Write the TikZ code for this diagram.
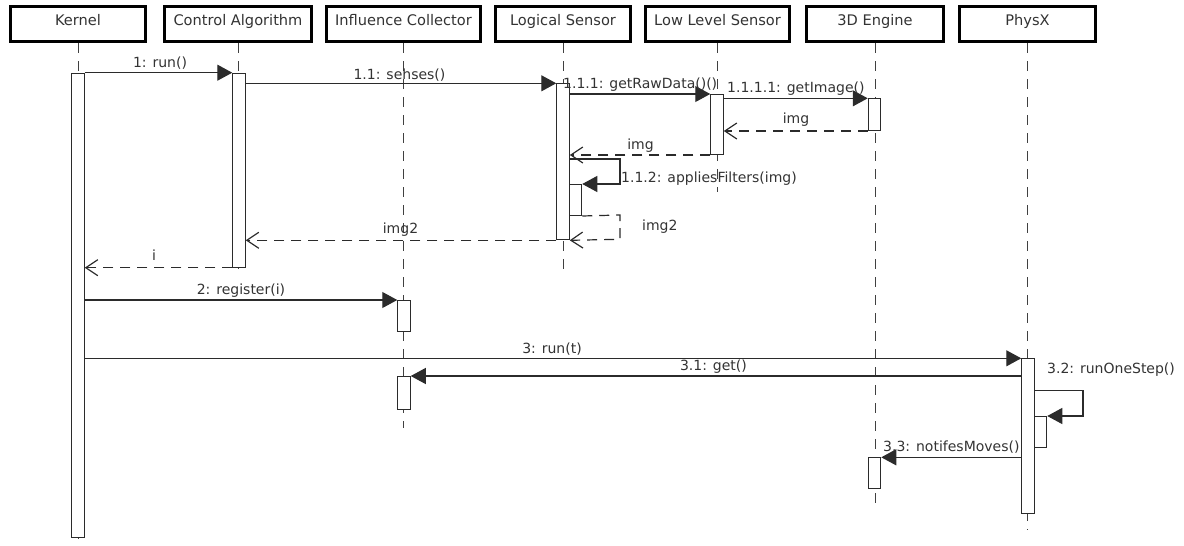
\documentclass[tikz,border=0pt]{standalone}
\usepackage{fontspec}
\setmainfont{DejaVu Sans}
\usetikzlibrary{arrows.meta}
\definecolor{ink}{HTML}{2B2B2B}
\definecolor{dash}{HTML}{404040}
\definecolor{txt}{HTML}{333333}

\begin{document}
\begin{tikzpicture}[x=1pt,y=-1pt,
  font=\fontsize{14}{16}\selectfont,
  actor/.style={draw=black, line width=2.8pt, fill=white, minimum height=35.2pt,
    inner sep=0pt, text=txt, text height=10.7pt, text depth=7pt,
    font=\fontsize{14.6}{16}\selectfont},
  lifeline/.style={draw=dash, line width=0.9pt, dash pattern=on 10pt off 8pt},
  act/.style={draw=ink, fill=white, line width=1pt, minimum width=12.5pt,
    inner sep=0pt, anchor=north},
  call/.style={draw=ink, line width=1.2pt, -{Triangle[length=15pt,width=16pt]}},
  ret/.style={draw=ink, line width=1.2pt, dash pattern=on 10pt off 7pt,
    -{Straight Barb[length=12pt,width=16pt,line width=1.2pt]}},
  lbl/.style={text=txt, inner sep=0pt},
]
\useasboundingbox (0,0) rectangle (1184,546);

% participants
\node[actor, minimum width=135pt] (kernel) at (78,24)     {Kernel};
\node[actor, minimum width=147pt] (ctrl)   at (238,24)    {Control Algorithm};
\node[actor, minimum width=154pt] (infl)   at (403.5,24)  {Influence Collector};
\node[actor, minimum width=135pt] (logic)  at (563,24)    {Logical Sensor};
\node[actor, minimum width=144pt] (lowlvl) at (717.5,24)  {Low Level Sensor};
\node[actor, minimum width=137pt] (engine) at (875,24)    {3D Engine};
\node[actor, minimum width=136pt] (physx)  at (1027.5,24) {PhysX};

% lifelines
\coordinate (kernelend) at (78,546);
\coordinate (ctrlend)   at (238,272);
\coordinate (inflend)   at (403.5,428);
\coordinate (logicend)  at (563,270);
\coordinate (lowlvlend) at (717.5,192);
\coordinate (engineend) at (875,505);
\coordinate (physxend)  at (1027.5,530);
\draw[lifeline] (kernel.south) -- (kernelend);
\draw[lifeline] (ctrl.south)   -- (ctrlend);
\draw[lifeline] (infl.south)   -- (inflend);
\draw[lifeline] (logic.south)  -- (logicend);
\draw[lifeline] (lowlvl.south) -- (lowlvlend);
\draw[lifeline] (engine.south) -- (engineend);
\draw[lifeline] (physx.south)  -- (physxend);

% activations
\node[act, minimum height=464.6pt] (kact)   at (78,72.7)    {};
\node[act, minimum height=194pt]   (cact)   at (239,72.7)   {};
\node[act, minimum height=156pt]   (lsact)  at (563,83.3)   {};
\node[act, minimum height=31pt]    (lsnest) at (575.5,184)  {};
\node[act, minimum height=60pt]    (llsact) at (717,94)     {};
\node[act, minimum height=31.7pt]  (deact)  at (874.5,98.3) {};
\node[act, minimum height=31pt]    (icact)  at (404,300)    {};
\node[act, minimum height=33pt]    (icact2) at (404,376)    {};
\node[act, minimum height=155pt]   (pxact)  at (1028,358.3) {};
\node[act, minimum height=30.7pt]  (pxnest) at (1040.5,416) {};
\node[act, minimum height=30.4pt]  (deact2) at (874.5,457.3){};

% self-call corners
\coordinate (lsloopA) at (620,159);
\coordinate (lsloopB) at (620,184);
\coordinate (lsretA)  at (620,215);
\coordinate (lsretB)  at (620,239.3);
\coordinate (pxloopA) at (1083,390.7);
\coordinate (pxloopB) at (1083,416);

% messages
\draw[call] (kact.north east) -- (cact.north west);
\draw[call] (cact.east |- lsact.north) -- (lsact.north west);
\draw[call] (lsact.east |- llsact.north) -- (llsact.north west);
\draw[call] (llsact.east |- deact.north) -- (deact.north west);
\draw[ret]  (deact.south west) -- (llsact.east |- deact.south);
\draw[ret]  (llsact.south west) -- (lsact.east |- llsact.south);
\draw[call] (lsact.east |- lsloopA) -- (lsloopA) -- (lsloopB) -- (lsnest.north east);
\draw[ret]  (lsnest.south east) -- (lsretA) -- (lsretB) -- (lsact.south east);
\draw[ret]  (lsact.south west) -- (cact.east |- lsact.south);
\draw[ret]  (cact.south west) -- (kact.east |- cact.south);
\draw[call] (kact.east |- icact.north) -- (icact.north west);
\draw[call] (kact.east |- pxact.north) -- (pxact.north west);
\draw[call] (pxact.west |- icact2.north) -- (icact2.north east);
\draw[call] (pxact.east |- pxloopA) -- (pxloopA) -- (pxloopB) -- (pxnest.north east);
\draw[call] (pxact.west |- deact2.north) -- (deact2.north east);

% message labels
\node[lbl] (m1)   at (160,63)    {1: run()};
\node[lbl] (m11)  at (399.5,75)  {1.1: sehses()};
\node[lbl, anchor=west] (m111)  at (563,85)  {1.1.1: getRawData()()};
\node[lbl, anchor=west] (m1111) at (727,89)  {1.1.1.1: getImage()};
\node[lbl] (r1)   at (796,120)   {img};
\node[lbl] (r2)   at (640.5,146) {img};
\node[lbl, anchor=west] (m112)  at (621,179) {1.1.2: appliesFilters(img)};
\node[lbl, anchor=west] (r3)    at (642,227) {img2};
\node[lbl] (r4)   at (400.5,230) {img2};
\node[lbl] (r5)   at (154,255)   {i};
\node[lbl] (m2)   at (241,291)   {2: register(i)};
\node[lbl] (m3)   at (552,349)   {3: run(t)};
\node[lbl] (m31)  at (713.5,367) {3.1: get()};
\node[lbl, anchor=west] (m32) at (1047,370) {3.2: runOneStep()};
\node[lbl, anchor=west] (m33) at (883,447)  {3.3: notifesMoves()};
\end{tikzpicture}
\end{document}
